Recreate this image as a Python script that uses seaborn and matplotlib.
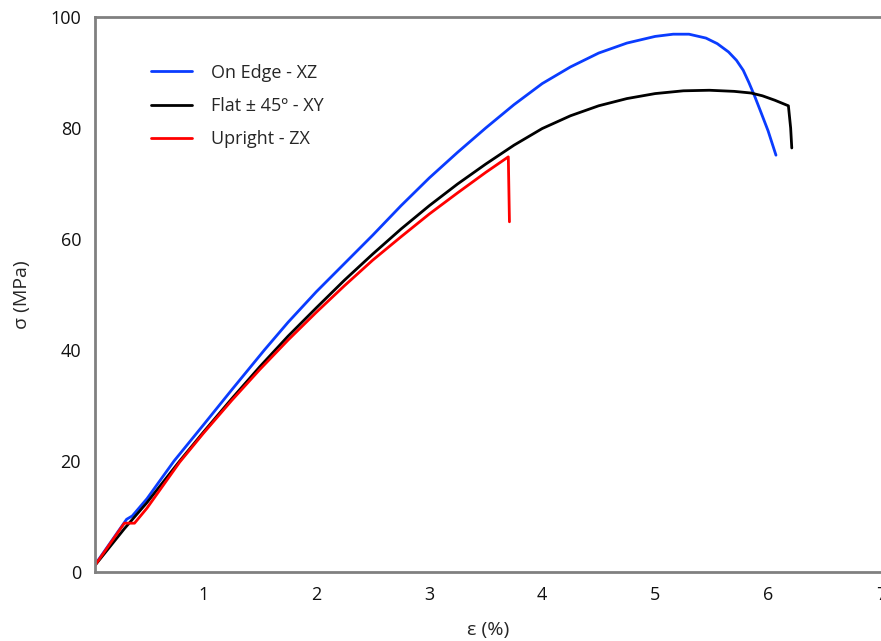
import pandas as pd
import seaborn as sns
import matplotlib.pyplot as plt

# strain (%) / stress (MPa)
edge_x = [0.04, 0.32, 0.37, 0.5, 0.74, 1.0, 1.25, 1.54, 1.75, 2.0, 2.25, 2.5, 2.75, 3.0, 3.25, 3.5, 3.75,
          4.0, 4.25, 4.5, 4.75, 5.0, 5.16, 5.3, 5.45, 5.55, 5.65, 5.72, 5.78, 5.83, 5.88, 5.93, 6.0, 6.07]
edge_y = [1.3, 9.5, 10.1, 13.2, 20.0, 26.5, 32.8, 40.0, 45.0, 50.5, 55.6, 60.7, 66.0, 71.0, 75.6, 80.0, 84.2,
          88.0, 91.0, 93.5, 95.3, 96.5, 96.9, 96.9, 96.2, 95.2, 93.7, 92.2, 90.4, 88.2, 85.8, 83.2, 79.5, 75.1]

flat_x = [0.04, 0.3, 0.5, 0.79, 1.0, 1.25, 1.5, 1.75, 2.0, 2.25, 2.5, 2.75, 3.0, 3.25, 3.5, 3.75, 4.0,
          4.25, 4.5, 4.75, 5.0, 5.25, 5.48, 5.7, 5.85, 5.95, 6.06, 6.18, 6.20, 6.21]
flat_y = [1.2, 7.8, 12.5, 20.0, 25.2, 31.2, 37.0, 42.5, 47.6, 52.6, 57.3, 61.8, 66.0, 69.9, 73.5, 76.9, 79.9,
          82.2, 84.0, 85.3, 86.2, 86.7, 86.8, 86.6, 86.3, 85.8, 85.0, 84.0, 80.0, 76.4]

up_x = [0.04, 0.30, 0.39, 0.5, 0.79, 1.0, 1.25, 1.5, 1.75, 2.0, 2.25, 2.5, 2.75, 3.0, 3.25, 3.5, 3.70, 3.71]
up_y = [1.2, 8.8, 8.8, 11.5, 19.8, 25.0, 30.9, 36.5, 41.8, 46.8, 51.6, 56.2, 60.4, 64.5, 68.3, 72.0, 74.8, 63.1]

names = ['On Edge - XZ', 'Flat \u00b1 45\u00ba - XY', 'Upright - ZX']
colors = ['#0a3cff', '#000000', '#ff0000']

frames = []
for name, xs, ys in zip(names, [edge_x, flat_x, up_x], [edge_y, flat_y, up_y]):
    frames.append(pd.DataFrame({'strain': xs, 'stress': ys, 'sample': name}))
data = pd.concat(frames, ignore_index=True)

sns.set_theme(style='white')
plt.rcParams['font.family'] = ['Open Sans', 'DejaVu Sans']

fig = plt.figure(figsize=(8.81, 6.41), dpi=100)
ax = fig.add_axes([0.1078, 0.1076, 0.8922, 0.8659])

sns.lineplot(data=data, x='strain', y='stress', hue='sample', hue_order=names,
             palette=colors, sort=False, estimator=None, linewidth=2, ax=ax)

ax.set_xlim(0.04, 6.975)
ax.set_ylim(0, 100)
ax.set_xticks(range(1, 8))
ax.set_yticks(range(0, 101, 20))
ax.tick_params(direction='in', length=5, width=1.5, color='#808080',
               labelsize=13, labelcolor='#111111', pad=10)
for side in ['left', 'bottom', 'top']:
    ax.spines[side].set_color('#808080')
    ax.spines[side].set_linewidth(2)
ax.spines['right'].set_visible(False)

ax.set_xlabel('\u03b5 (%)', fontsize=14, labelpad=12)
ax.set_ylabel('\u03c3 (MPa)', fontsize=14, labelpad=14)

ax.legend(title=None, frameon=False, loc='upper left', bbox_to_anchor=(0.05, 0.945),
          fontsize=13, handlelength=2.3, labelspacing=0.85, handletextpad=1.05)

fig.savefig('out.png', dpi=100)
